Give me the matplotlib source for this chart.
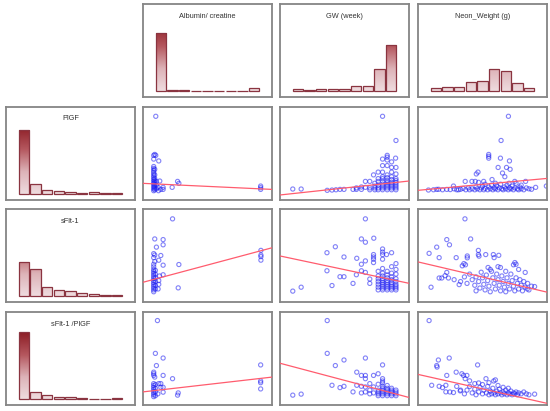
import numpy as np
import matplotlib
matplotlib.use("Agg")
import matplotlib.pyplot as plt
from matplotlib.colors import LinearSegmentedColormap
from matplotlib.patches import Rectangle

plt.rcParams['font.family'] = ['Liberation Sans', 'DejaVu Sans']

# variable names
col_names = ["Albumin/ creatine", "GW (week)", "Neon_Weight (g)"]
row_names = ["PlGF", "sFlt-1", "sFlt-1 /PlGF"]

# histogram counts (9 bins each)
albumin_counts = [58, 1.3, 1.5, 0, 0, 0, 0, 0, 2.7]
gw_counts = [1.7, 0.7, 1.7, 1.7, 2.3, 4.7, 4.7, 21.7, 45.7]
weight_counts = [2.7, 4, 4, 9.3, 10, 22, 19.7, 7.7, 3]
plgf_counts = [64, 9.7, 4, 3, 2, 0.7, 1.7, 0.7, 1.3]
sflt_counts = [33.7, 26.7, 9, 6, 4.7, 2.7, 2, 0.7, 1.3]
ratio_counts = [67, 7, 4.3, 2, 2, 1, 0.3, 0.3, 1]

# scatter data (scaled 0-100 on both axes), rows = PlGF, sFlt-1, ratio
plgf_alb = [(9.9, 90), (9.1, 49), (8.3, 48), (9.9, 48), (8.3, 44), (12.2, 42),
            (8.3, 36), (8.3, 34), (8.3, 32), (8.3, 30), (8.3, 28), (8.3, 26), (8.3, 24),
            (8.3, 22), (8.3, 20), (8.3, 18), (8.3, 16), (8.3, 14), (8.3, 12), (8.3, 10),
            (9.1, 33), (9.1, 27), (9.1, 21), (9.1, 17), (9.1, 13), (9.1, 11), (9.1, 15),
            (9.1, 19), (9.1, 23), (10.4, 20), (13, 20.4), (11.7, 13.6), (15.6, 13.6),
            (15.6, 11.4), (13.8, 11.4), (10.4, 12), (10.4, 16), (12, 10), (22.6, 13.6),
            (26.8, 20), (27.8, 17.9), (91.2, 15), (91.2, 13.2), (91.2, 11.4)]
plgf_gw = [(79.5, 90), (89.9, 64), (83.1, 48), (83.1, 46), (83.1, 43), (79.5, 44), (89.6, 45),
           (86.5, 41), (79.5, 37), (83.1, 37), (86.5, 35), (89.9, 35), (86.5, 30), (76.1, 30),
           (72.5, 27), (79.5, 30), (83.1, 27), (89.9, 28), (66.2, 20), (69.6, 20),
           (69.6, 11), (69.6, 13), (73.5, 11), (73.5, 13), (73.5, 15), (73.5, 18),
           (76.1, 11), (76.1, 13), (76.1, 16), (76.1, 20), (76.1, 23),
           (79.5, 11), (79.5, 13), (79.5, 15), (79.5, 17), (79.5, 20), (79.5, 23), (79.5, 25),
           (83.1, 11), (83.1, 13), (83.1, 15), (83.1, 17), (83.1, 19), (83.1, 21), (83.1, 24),
           (86.5, 11), (86.5, 13), (86.5, 15), (86.5, 17), (86.5, 19), (86.5, 22), (86.5, 25),
           (89.9, 11), (89.9, 13), (89.9, 15), (89.9, 17), (89.9, 19), (89.9, 21), (89.9, 23),
           (9.9, 11.8), (16.4, 11.8), (36.6, 10.4), (40.3, 10.7), (43.4, 11), (46.5, 11.4),
           (49.6, 11.4), (56.6, 11.4), (59.2, 11.4), (63.1, 11.4), (66.2, 13.6), (63.1, 14),
           (59.2, 13)]
plgf_nw = [(70.1, 90), (64.4, 64), (54.8, 49), (54.8, 47), (54.8, 45), (63.9, 45), (70.9, 42),
           (62.1, 35), (68.6, 35), (71.4, 33), (46.5, 30), (45.2, 28), (65.5, 29), (67.3, 25),
           (57.4, 22), (36.6, 20), (41.8, 20), (44.4, 20), (50.9, 20), (83.4, 20), (27.5, 15),
           (70.6, 18), (8.1, 10.7), (14.5, 11.4), (22.3, 11.4), (31.4, 11), (91.2, 13.6),
           (99.5, 15), (12, 11), (16, 11.5), (19, 11), (25, 11.2), (28, 12), (30, 11),
           (33, 11.5), (35, 12.5), (37, 11), (39, 13), (40, 11), (42, 12), (44, 11), (45, 14),
           (46, 12), (48, 11), (49, 13), (50, 15), (51, 11), (52, 12.5), (54, 11), (55, 14),
           (56, 12), (57, 16), (58, 11), (59, 13), (60, 12), (61, 15), (62, 11), (63, 13),
           (64, 17), (65, 12), (66, 11), (67, 14), (68, 12), (69, 16), (70, 11), (71, 13),
           (72, 12), (73, 15), (74, 11), (75, 13), (76, 18), (77, 12), (78, 11), (79, 14),
           (80, 12), (82, 11), (84, 13), (86, 12), (88, 11.5), (60, 18), (52, 17), (47, 19),
           (75, 20), (80, 16)]
sflt_alb = [(22.9, 89.4), (9.1, 67.8), (15.6, 67.1), (15.6, 61.5), (10.4, 59), (8.3, 52),
            (9.1, 50.5), (8.3, 47.7), (13.8, 50), (12.2, 44.9), (9.1, 43.5), (8.3, 40.6),
            (8.3, 37.8), (15.6, 39.6), (27.8, 40.3), (8.3, 35), (8.3, 33), (8.3, 31), (8.3, 29),
            (8.3, 27), (8.3, 25), (8.3, 23), (8.3, 21), (8.3, 19), (8.3, 17), (8.3, 15),
            (8.3, 13), (8.3, 11), (9.6, 34), (9.6, 30), (9.6, 26), (9.6, 22), (9.6, 18),
            (9.6, 14), (15.6, 29.3), (12.8, 28), (12.2, 23), (12.2, 19), (11.7, 14),
            (27.3, 15.2), (91.4, 55.5), (91.4, 50.5), (91.4, 48.8), (91.4, 45)]
sflt_gw = [(66.2, 89.4), (63.1, 67.8), (72.7, 68.6), (66.2, 64.3), (42.9, 59.4), (36.4, 53),
           (49.6, 48.4), (59.5, 47), (66.2, 44.2), (63.1, 40.6), (72.5, 51), (72.5, 48.4),
           (72.5, 46), (72.5, 42.4), (79.5, 57), (79.5, 53.7), (79.5, 51), (79.5, 46),
           (82.6, 51), (86.5, 53), (89.9, 41.3), (36.4, 33.6), (46.5, 27.2), (49.6, 27.2),
           (56.6, 20), (40.3, 17.7), (59.2, 29.3), (63.1, 33.6), (66.2, 31.8), (69.6, 20),
           (69.6, 24.7), (9.9, 11.7), (16.4, 15.9),
           (76.1, 13), (76.1, 16), (76.1, 19), (76.1, 22), (76.1, 25), (76.1, 28), (76.1, 33),
           (79.5, 13), (79.5, 15), (79.5, 17), (79.5, 19), (79.5, 21), (79.5, 23), (79.5, 25),
           (79.5, 28), (79.5, 31), (79.5, 36), (83.1, 13), (83.1, 15), (83.1, 17), (83.1, 19),
           (83.1, 21), (83.1, 23), (83.1, 26), (83.1, 29), (83.1, 33), (86.5, 13), (86.5, 15),
           (86.5, 17), (86.5, 19), (86.5, 21), (86.5, 24), (86.5, 27), (86.5, 31), (86.5, 38),
           (89.9, 13), (89.9, 15), (89.9, 17), (89.9, 19), (89.9, 22), (89.9, 25), (89.9, 30),
           (89.9, 35)]
sflt_nw = [(36.4, 89.4), (22.3, 67.1), (24.4, 61.5), (14.5, 59), (40.8, 67.8), (8.6, 52.3),
           (16.4, 47.7), (29.6, 47.7), (38.2, 49.5), (38.2, 47.5), (34.3, 38.9), (35.6, 41.3),
           (36.8, 40), (46.8, 55.5), (46.8, 51), (47.3, 49.3), (52.5, 51), (58.4, 51),
           (59, 47.7), (62.6, 50.2), (75.1, 42.4), (76, 40.6), (74, 40), (83.1, 31.8),
           (54.3, 37.1), (63.9, 37.1), (22.3, 31.8), (21, 28.3), (16.4, 25.8), (18.4, 25.8),
           (23.6, 25.8), (10.1, 15.9), (31.9, 18.7), (90.4, 16.6), (84.7, 14.1),
           (28, 24), (33, 22), (36, 27), (38, 20), (40, 30), (42, 24), (44, 18), (45, 27),
           (47, 22), (48, 15), (49, 32), (50, 26), (51, 19), (52, 13), (53, 29), (54, 23),
           (55, 17), (56, 11), (57, 33), (58, 26), (59, 20), (60, 14), (61, 30), (62, 24),
           (63, 18), (64, 12), (65, 28), (66, 22), (67, 16), (68, 11), (69, 26), (70, 20),
           (71, 14), (72, 30), (73, 23), (74, 17), (75, 12), (76, 26), (77, 20), (78, 14),
           (79, 24), (80, 18), (81, 12), (82, 22), (83, 16), (85, 20), (86, 13), (88, 17),
           (56, 35), (68, 33), (45, 12), (62, 38), (78, 35)]
ratio_alb = [(11.2, 90.8), (9.6, 55.5), (15.6, 50.5), (10.4, 42.4), (8.3, 35.3), (8.3, 33.6),
             (8.3, 31.8), (9.1, 30), (15.6, 31.8), (22.9, 28.3), (8.3, 23), (8.3, 21),
             (8.3, 19), (8.3, 17), (8.3, 15), (8.3, 13), (8.3, 11), (8.3, 9), (9.6, 22),
             (9.6, 18), (9.6, 14), (9.6, 10), (12.2, 23), (13.8, 23), (13.8, 19), (15.6, 19),
             (15.6, 13.8), (11.5, 12), (27.3, 13), (26.8, 10.6), (91.2, 43.1), (91.2, 25.8),
             (91.2, 24), (91.2, 17.3)]
ratio_gw = [(36.6, 90.8), (36.6, 55.5), (49.6, 48.4), (66.2, 50.5), (42.9, 42.4), (79.5, 43.1),
            (59.5, 35.3), (63.1, 31.8), (66.2, 31.8), (66.2, 28.3), (72.5, 31.8), (76.1, 33.6),
            (40.3, 21.2), (46.5, 18.7), (49.6, 20.1), (56.6, 14.1), (59.5, 21.2), (63.1, 20.1),
            (66.2, 19.4), (69.6, 23), (72.5, 19.4), (76.1, 22.3), (79.5, 28.3), (79.5, 25.8),
            (79.5, 23.7), (9.9, 10.6), (16.4, 11.7), (76.1, 10), (76.1, 12), (76.1, 14),
            (76.1, 16), (79.5, 10), (79.5, 12), (79.5, 14), (79.5, 16), (79.5, 18), (79.5, 20),
            (83.1, 10), (83.1, 12), (83.1, 14), (83.1, 16), (83.1, 18), (83.1, 21), (86.5, 10),
            (86.5, 12), (86.5, 14), (86.5, 16), (86.5, 18), (89.9, 10), (89.9, 12), (89.9, 14),
            (89.9, 16), (63.1, 13), (66.2, 14), (69.6, 12), (72.5, 13), (69.6, 16)]
ratio_nw = [(8.6, 90.8), (15.8, 48.4), (24.2, 50.5), (14.5, 42.4), (14.8, 40.8), (29.6, 35.3),
            (22.3, 31.8), (34, 33.6), (35.3, 31.8), (36.6, 28.3), (37.9, 31.8), (46.2, 43.1),
            (52.7, 28.3), (58.7, 25.8), (47, 23.7), (10.6, 21.2), (16.4, 20.1), (19, 18.7),
            (21.6, 21.2), (24.7, 14), (27.5, 13.4), (21.6, 14.1), (32.7, 15.2), (90.4, 11.7),
            (36, 12), (38, 16), (40, 20), (42, 13), (44, 17), (45, 11), (47, 14), (48, 19),
            (50, 12), (51, 16), (53, 13), (54, 20), (55, 11), (56, 15), (57, 12), (58, 18),
            (59, 13), (60, 11), (61, 15), (62, 12), (63, 17), (64, 13), (65, 11), (66, 14),
            (67, 12), (68, 16), (69, 11), (70, 13), (71, 12), (72, 15), (73, 11), (74, 13),
            (75, 12), (76, 14), (77, 11), (78, 13), (80, 12), (82, 14), (84, 12), (86, 11),
            (40, 26), (44, 23), (50, 22), (55, 24), (62, 21), (66, 19), (70, 18), (60, 27),
            (30, 20), (33, 16)]

# fitted lines: (intercept, slope) in the same scaled units
fit_plgf = [(17.9, -0.065), (5.4, 0.15), (10.4, 0.128)]
fit_sflt = [(21.2, 0.371), (49.5, -0.294), (43.1, -0.325)]
fit_ratio = [(14.1, 0.159), (44.9, -0.368), (32.9, -0.311)]

col_hists = [albumin_counts, gw_counts, weight_counts]
row_hists = [plgf_counts, sflt_counts, ratio_counts]
scatters = [[plgf_alb, plgf_gw, plgf_nw],
            [sflt_alb, sflt_gw, sflt_nw],
            [ratio_alb, ratio_gw, ratio_nw]]
fits = [fit_plgf, fit_sflt, fit_ratio]

W, H = 550, 411
fig = plt.figure(figsize=(W / 100, H / 100), dpi=100)

col_x = [6, 143, 280, 418]
row_y = [4, 107, 209, 312]
pw, ph = 129, 93

grad_cmap = LinearSegmentedColormap.from_list("bar", ["#efdcdf", "#ddb3b8", "#b5585f", "#8e1f27"])
frame_col = "#858585"


def make_ax(r, c):
    ax = fig.add_axes([col_x[c] / W, 1 - (row_y[r] + ph) / H, pw / W, ph / H])
    ax.set_xticks([])
    ax.set_yticks([])
    for s in ax.spines.values():
        s.set_color(frame_col)
        s.set_linewidth(1.3)
    return ax


def draw_hist(ax, counts, title):
    grad = np.linspace(0, 1, 256).reshape(-1, 1)
    for i, v in enumerate(counts):
        rect = Rectangle((i + 0.07, 0), 0.86, v, facecolor="none",
                         edgecolor="#8a3440", linewidth=0.9, zorder=3)
        ax.add_patch(rect)
        if v > 0:
            im = ax.imshow(grad, cmap=grad_cmap, origin="lower", aspect="auto",
                           extent=[-1, 10, 0, 66], vmin=0, vmax=1, zorder=2)
            im.set_clip_path(rect)
    ax.set_xlim(-1.03, 10.03)
    ax.set_ylim(-6, 87)
    ax.text(0.5, 1 - 12 / ph, title, transform=ax.transAxes, ha="center", va="center",
            fontsize=5.3, color="#333333")


def draw_scatter(ax, pts, fit):
    xs = [p[0] for p in pts]
    ys = [p[1] for p in pts]
    ax.scatter(xs, ys, s=9, facecolors="none", edgecolors=(0.1, 0.1, 0.95, 0.55),
               linewidths=0.8, zorder=2)
    lx = np.array([0, 100])
    ax.plot(lx, np.polyval([fit[1], fit[0]], lx), color="#ff5c6e", lw=0.9, zorder=3)
    ax.set_xlim(0, 100)
    ax.set_ylim(0, 100)


for c in range(3):
    draw_hist(make_ax(0, c + 1), col_hists[c], col_names[c])
for r in range(3):
    draw_hist(make_ax(r + 1, 0), row_hists[r], row_names[r])
    for c in range(3):
        draw_scatter(make_ax(r + 1, c + 1), scatters[r][c], fits[r][c])

fig.savefig("out.png", dpi=100)
